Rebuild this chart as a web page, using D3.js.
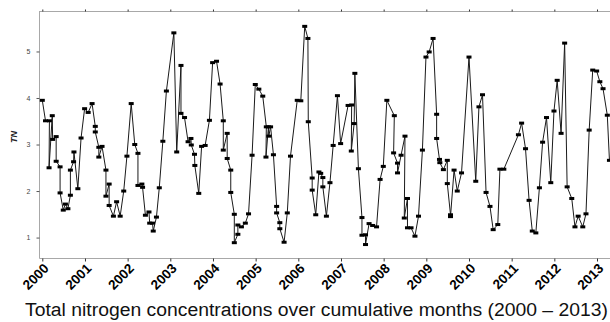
<!DOCTYPE html>
<html><head><meta charset="utf-8">
<script src="https://cdn.jsdelivr.net/npm/d3@7"></script>
<style>
html,body{margin:0;padding:0;background:#fff;}
svg{display:block;}
</style></head>
<body>
<svg id="chart" width="610" height="322"></svg>
<script>
// cumulative months since Jan 2000
const months = [0,0.9,2.0,1.9,2.8,2.9,3.9,3.9,5.0,5.0,5.9,6.5,7.2,7.9,7.9,8.8,8.9,10.0,10.9,11.9,12.9,14.0,14.9,14.9,15.9,15.9,16.8,17.9,17.9,18.8,18.8,20.0,20.9,21.9,22.9,23.8,25.0,26.0,26.9,26.9,28.0,28.2,29.0,30.0,30.2,31.0,31.2,32.1,32.9,33.9,34.9,37.0,37.8,39.0,39.0,40.0,41.0,41.8,41.9,42.8,42.9,44.0,44.8,45.8,47.0,47.9,49.0,50.0,50.9,50.9,52.0,52.0,53.0,53.0,54.0,54.0,55.0,55.0,56.0,57.1,58.0,59.0,59.9,60.9,62.0,63.0,62.9,63.6,63.7,64.2,65.0,65.9,65.9,66.8,66.8,68.0,68.9,69.8,71.7,72.7,73.8,74.7,74.8,75.9,75.9,76.9,77.8,78.3,78.9,78.9,79.9,80.9,81.8,83.0,83.9,86.0,87.0,86.9,87.7,87.9,88.9,89.9,89.9,90.9,90.9,91.9,92.9,94.0,95.0,95.9,96.9,99.0,98.8,99.9,99.9,100.9,102.0,101.8,102.7,102.7,103.7,104.8,105.8,106.9,107.9,108.8,109.9,110.9,110.9,111.7,111.8,112.8,113.9,113.9,114.8,114.8,115.8,116.7,117.9,120.0,121.9,122.8,123.8,124.8,125.9,126.8,128.1,128.7,129.8,133.9,134.8,135.9,136.9,137.8,138.8,139.8,140.7,141.8,143.0,143.9,144.8,145.9,146.9,147.6,148.9,149.8,150.7,152.0,152.9,153.8,154.8,155.9,156.8,157.7,158.9,159.5];
// total nitrogen values
const tnValues = [3.95,3.51,3.51,2.50,3.62,3.11,3.17,2.64,2.52,1.96,1.59,1.72,1.62,1.91,2.45,2.63,2.84,2.05,3.14,3.77,3.69,3.88,3.39,3.27,2.94,2.73,2.96,2.45,1.89,2.15,1.69,1.46,1.77,1.46,2.00,2.75,3.88,3.00,2.81,2.12,2.15,2.08,1.48,1.55,1.31,1.31,1.14,1.44,2.07,3.07,4.15,5.40,2.84,4.70,3.67,3.58,3.06,3.13,2.99,2.79,2.55,1.95,2.96,2.98,3.52,4.76,4.79,4.30,3.51,2.88,3.24,2.70,2.45,1.97,1.50,0.89,1.07,1.27,1.23,1.31,1.51,2.77,4.29,4.19,4.04,3.38,2.73,3.38,3.18,3.38,2.78,1.67,1.53,1.32,1.19,0.90,1.53,2.75,3.95,3.94,5.54,5.28,3.49,2.28,2.02,1.49,2.41,2.38,2.29,2.09,1.46,2.18,2.98,4.05,3.02,3.84,3.85,2.86,3.45,4.53,2.48,1.43,1.05,1.06,0.85,1.30,1.26,1.23,2.25,2.53,3.95,3.62,2.82,2.60,2.39,2.77,3.18,1.42,1.84,1.21,1.21,1.03,1.46,2.88,4.88,4.99,5.28,3.65,3.13,2.68,2.61,2.46,2.66,2.16,1.49,1.45,2.45,2.00,2.39,4.88,2.21,3.81,4.07,1.97,1.67,1.17,1.28,2.47,2.47,3.21,3.46,2.91,1.80,1.14,1.10,2.07,3.05,3.58,2.18,3.72,4.38,3.24,5.18,2.09,1.84,1.23,1.46,1.23,1.51,3.31,4.60,4.58,4.35,4.20,3.63,2.66];
const yearLabels = ["2000","2001","2002","2003","2004","2005","2006","2007","2008","2009","2010","2011","2012","2013"];
const yTicks = [1,2,3,4,5];
const yLabel = "TN";
const caption = "Total nitrogen concentrations over cumulative months (2000 \u2013 2013)";

const svg = d3.select("#chart");
const x = d3.scaleLinear().domain([0,156]).range([42.3,597]);
const y = d3.scaleLinear().domain([0.55,5.87]).range([258.5,11]);
const plotLeft = 39.5, plotRight = 612, plotTop = 11, plotBottom = 258.5;
const frameColor = "#a8a8a8";

const data = months.map((m,i)=>({m, v: tnValues[i]}));
const yearTickVals = yearLabels.map((d,i)=>i*12);

// frame
svg.append("line").attr("x1",plotLeft).attr("x2",plotLeft).attr("y1",plotTop).attr("y2",plotBottom).attr("stroke",frameColor);
svg.append("line").attr("x1",plotLeft).attr("x2",plotRight).attr("y1",plotTop+0.5).attr("y2",plotTop+0.5).attr("stroke",frameColor);
svg.append("line").attr("x1",plotLeft).attr("x2",plotRight).attr("y1",plotBottom).attr("y2",plotBottom).attr("stroke",frameColor);

// bottom axis
const gx = svg.append("g").attr("transform",`translate(0,${plotBottom})`)
  .call(d3.axisBottom(x).tickValues(yearTickVals).tickSize(3).tickFormat(""));
gx.select(".domain").remove();
gx.selectAll(".tick line").attr("stroke","#333");
// top ticks
const gxt = svg.append("g").attr("transform",`translate(0,${plotTop+0.5})`)
  .call(d3.axisTop(x).tickValues(yearTickVals).tickSize(2).tickFormat(""));
gxt.select(".domain").remove();
gxt.selectAll(".tick line").attr("stroke","#333");

// year labels rotated
svg.append("g").selectAll("text").data(yearTickVals).join("text")
  .attr("transform",(d)=>`translate(${x(d)+0.5},${plotBottom+4}) rotate(-45)`)
  .attr("text-anchor","end")
  .attr("dy","0.71em")
  .attr("font-family","Liberation Sans, Arial, sans-serif")
  .attr("font-weight","bold")
  .attr("font-size","13.5px")
  .attr("fill","#000")
  .text((d,i)=>yearLabels[i]);

// left axis
const gy = svg.append("g").attr("transform",`translate(${plotLeft},0)`)
  .call(d3.axisLeft(y).tickValues(yTicks).tickSize(3).tickPadding(6).tickFormat(d3.format("d")));
gy.select(".domain").remove();
gy.selectAll(".tick line").attr("stroke","#555");
gy.selectAll(".tick text").attr("font-family","Liberation Sans, Arial, sans-serif").attr("font-size","7px").attr("fill","#444");

// y label
svg.append("text").attr("transform","translate(17,137) rotate(-90)")
  .attr("text-anchor","middle").attr("font-family","Liberation Sans, Arial, sans-serif")
  .attr("font-style","italic").attr("font-weight","bold").attr("font-size","9px").attr("fill","#222").text(yLabel);

// line
svg.append("path").datum(data)
  .attr("d", d3.line().x(d=>x(d.m)).y(d=>y(d.v)))
  .attr("fill","none").attr("stroke","#1a1a1a").attr("stroke-width",1);

// markers
svg.append("g").selectAll("rect").data(data).join("rect")
  .attr("x",d=>x(d.m)-2.5).attr("y",d=>y(d.v)-1.5)
  .attr("width",5).attr("height",3).attr("fill","#000");

// caption
svg.append("text").attr("x",316.5).attr("y",316).attr("text-anchor","middle")
  .attr("font-family","Liberation Sans, Arial, sans-serif").attr("font-size","18px").attr("fill","#111")
  .attr("textLength",583).attr("lengthAdjust","spacingAndGlyphs")
  .text(caption);
</script>
</body></html>
